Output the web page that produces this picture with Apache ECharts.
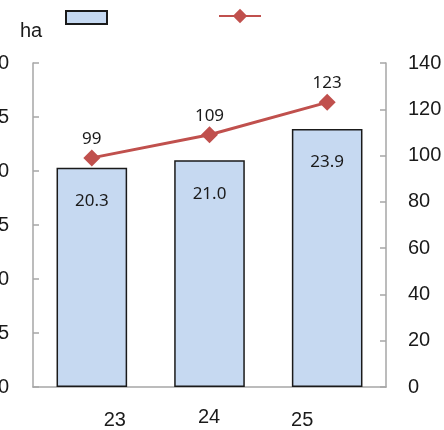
<!DOCTYPE html>
<html><head><meta charset="utf-8">
<script src="https://cdn.jsdelivr.net/npm/echarts@6/dist/echarts.min.js"></script>
<style>html,body{margin:0;padding:0;background:#fff;}#c{width:444px;height:430px;}</style>
</head><body><div id="c"></div>
<script>
const categories = ['23', '24', '25'];
const barValues = [20.3, 21.0, 23.9];
const lineValues = [99, 109, 123];
const leftTicks = [0, 30, 5];
const rightTicks = [0, 140, 20];
const barName = '面積';
const lineName = '件数';

const chart = echarts.init(document.getElementById('c'));
const axisGrey = '#a6a6a6';
const txt = '#1a1a1a';
const labelRich = {
  a: { fontSize: 20, fontFamily: 'Liberation Sans', color: txt, padding: [3, 0, 0, 46] },
  b: { fontSize: 20, fontFamily: 'Liberation Sans', color: txt, padding: [0, 1, 0, 0] },
  c: { fontSize: 20, fontFamily: 'Liberation Sans', color: txt, padding: [3, 50, 0, 0] }
};
chart.setOption({
  animation: false,
  backgroundColor: '#fff',
  legend: [
    { data: [barName], left: 65, top: 10, padding: 0, itemWidth: 41, itemHeight: 13, icon: 'rect', formatter: () => '', itemGap: 0 },
    { data: [lineName], left: 218, top: 7, padding: 0, itemWidth: 42, itemHeight: 18, formatter: () => '', itemGap: 0 }
  ],
  grid: { left: 33, right: 58, top: 63, bottom: 43, containLabel: false, outerBoundsMode: 'none' },
  xAxis: {
    type: 'category',
    data: categories,
    axisLine: { lineStyle: { color: axisGrey, width: 1.5 } },
    axisTick: { inside: true, length: 6, lineStyle: { color: axisGrey, width: 1.5 } },
    axisLabel: {
      margin: 20,
      formatter: (v, i) => '{' + ['a', 'b', 'c'][i] + '|' + v + '}',
      rich: labelRich
    }
  },
  yAxis: [
    {
      type: 'value', min: leftTicks[0], max: leftTicks[1], interval: leftTicks[2],
      name: 'ha', nameLocation: 'end', nameGap: 22,
      nameTextStyle: { fontSize: 20, fontFamily: 'Liberation Sans', color: txt, align: 'center', padding: [0, 4, 0, 0] },
      axisLine: { show: true, lineStyle: { color: axisGrey, width: 1.5 } },
      axisTick: { show: true, inside: true, length: 6, lineStyle: { color: axisGrey, width: 1.5 } },
      axisLabel: { margin: 24, fontSize: 20, fontFamily: 'Liberation Sans', color: txt },
      splitLine: { show: false }
    },
    {
      type: 'value', min: rightTicks[0], max: rightTicks[1], interval: rightTicks[2],
      position: 'right',
      axisLine: { show: true, lineStyle: { color: axisGrey, width: 1.5 } },
      axisTick: { show: true, inside: true, length: 6, lineStyle: { color: axisGrey, width: 1.5 } },
      axisLabel: { margin: 22, fontSize: 20, fontFamily: 'Liberation Sans', color: txt },
      splitLine: { show: false }
    }
  ],
  series: [
    {
      name: barName, type: 'bar', yAxisIndex: 0, data: barValues, barWidth: '60%',
      itemStyle: { color: '#c6d9f1', borderColor: '#1a1a1a', borderWidth: 1.5 },
      label: { show: true, position: 'insideTop', distance: 25, fontSize: 17, fontFamily: 'Noto Sans', color: txt, formatter: p => p.value.toFixed(1) }
    },
    {
      name: lineName, type: 'line', yAxisIndex: 1, data: lineValues,
      symbol: 'diamond', symbolSize: 17,
      lineStyle: { color: '#c0504d', width: 3 },
      itemStyle: { color: '#c0504d' },
      label: { show: true, position: 'top', distance: 2, fontSize: 17, fontFamily: 'Noto Sans', color: txt }
    }
  ]
});
</script></body></html>
